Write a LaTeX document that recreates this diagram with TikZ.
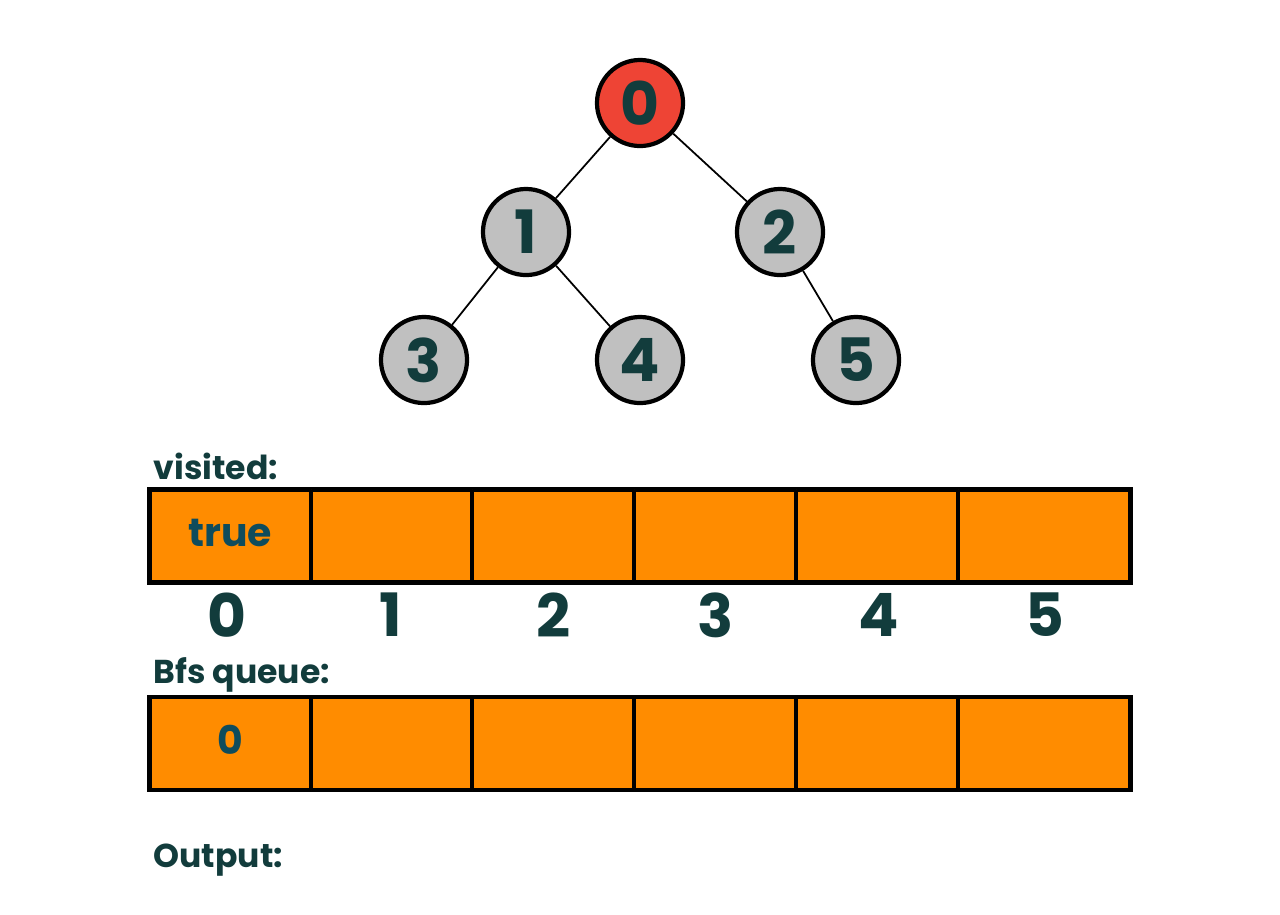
\documentclass[tikz,border=0pt]{standalone}
\usepackage{fontspec}
\setmainfont{Poppins}
\usetikzlibrary{positioning}

\definecolor{tinta}{HTML}{123C3C}
\definecolor{tintacelda}{HTML}{0F4C5C}
\definecolor{naranja}{HTML}{FF8C00}
\definecolor{rojo}{HTML}{EE4435}
\definecolor{gris}{HTML}{C0C0C0}

\begin{document}
\begin{tikzpicture}[x=0.01cm, y=-0.01cm,
  nodo/.style={circle, draw=black, line width=1.2pt, fill=gris, minimum size=0.86cm,
    inner sep=0pt, text=tinta, font=\bfseries\fontsize{17}{17}\selectfont},
  arista/.style={draw=black, line width=0.5pt},
  celda/.style={draw=black, line width=1.4pt, fill=naranja},
  indice/.style={text=tinta, font=\bfseries\fontsize{17}{17}\selectfont},
  titulo/.style={anchor=west, text=tinta, inner sep=0pt, font=\bfseries\fontsize{9.4}{9.4}\selectfont},
  valor/.style={text=tintacelda, font=\bfseries\fontsize{11.2}{11.2}\selectfont}]
  \useasboundingbox (0,0) rectangle (1280,914);
  % arbol
  \node[nodo, fill=rojo] (n0) at (640,103) {0};
  \node[nodo] (n1) at (526,232) {1};
  \node[nodo] (n2) at (780,232) {2};
  \node[nodo] (n3) at (424,360) {3};
  \node[nodo] (n4) at (640,360) {4};
  \node[nodo] (n5) at (856,360) {5};
  \draw[arista] (n0)--(n1) (n0)--(n2);
  \draw[arista] (n1)--(n3) (n1)--(n4) (n2)--(n5);
  % visited
  \node[titulo] (tvis) at (153,466) {visited:};
  \draw[celda] (149.5,489.5) rectangle (1130.5,582.5);
  \draw[celda] (311,489.5)--(311,582.5) (472,489.5)--(472,582.5) (634,489.5)--(634,582.5)
    (796,489.5)--(796,582.5) (958,489.5)--(958,582.5);
  \node[valor] (v0) at (230,533) {true};
  % indices
  \node[indice] (i0) at (227,615) {0};
  \node[indice] (i1) at (391,615) {1};
  \node[indice] (i2) at (554,615) {2};
  \node[indice] (i3) at (716,615) {3};
  \node[indice] (i4) at (879,615) {4};
  \node[indice] (i5) at (1045,615) {5};
  % cola bfs
  \node[titulo] (tcola) at (153,675) {Bfs queue:};
  \draw[celda] (149.5,697) rectangle (1130.5,790);
  \draw[celda] (311,697)--(311,790) (472,697)--(472,790) (634,697)--(634,790)
    (796,697)--(796,790) (958,697)--(958,790);
  \node[valor] (q0) at (230,740) {0};
  % salida
  \node[titulo] (tsal) at (153,860) {Output:};
\end{tikzpicture}
\end{document}
